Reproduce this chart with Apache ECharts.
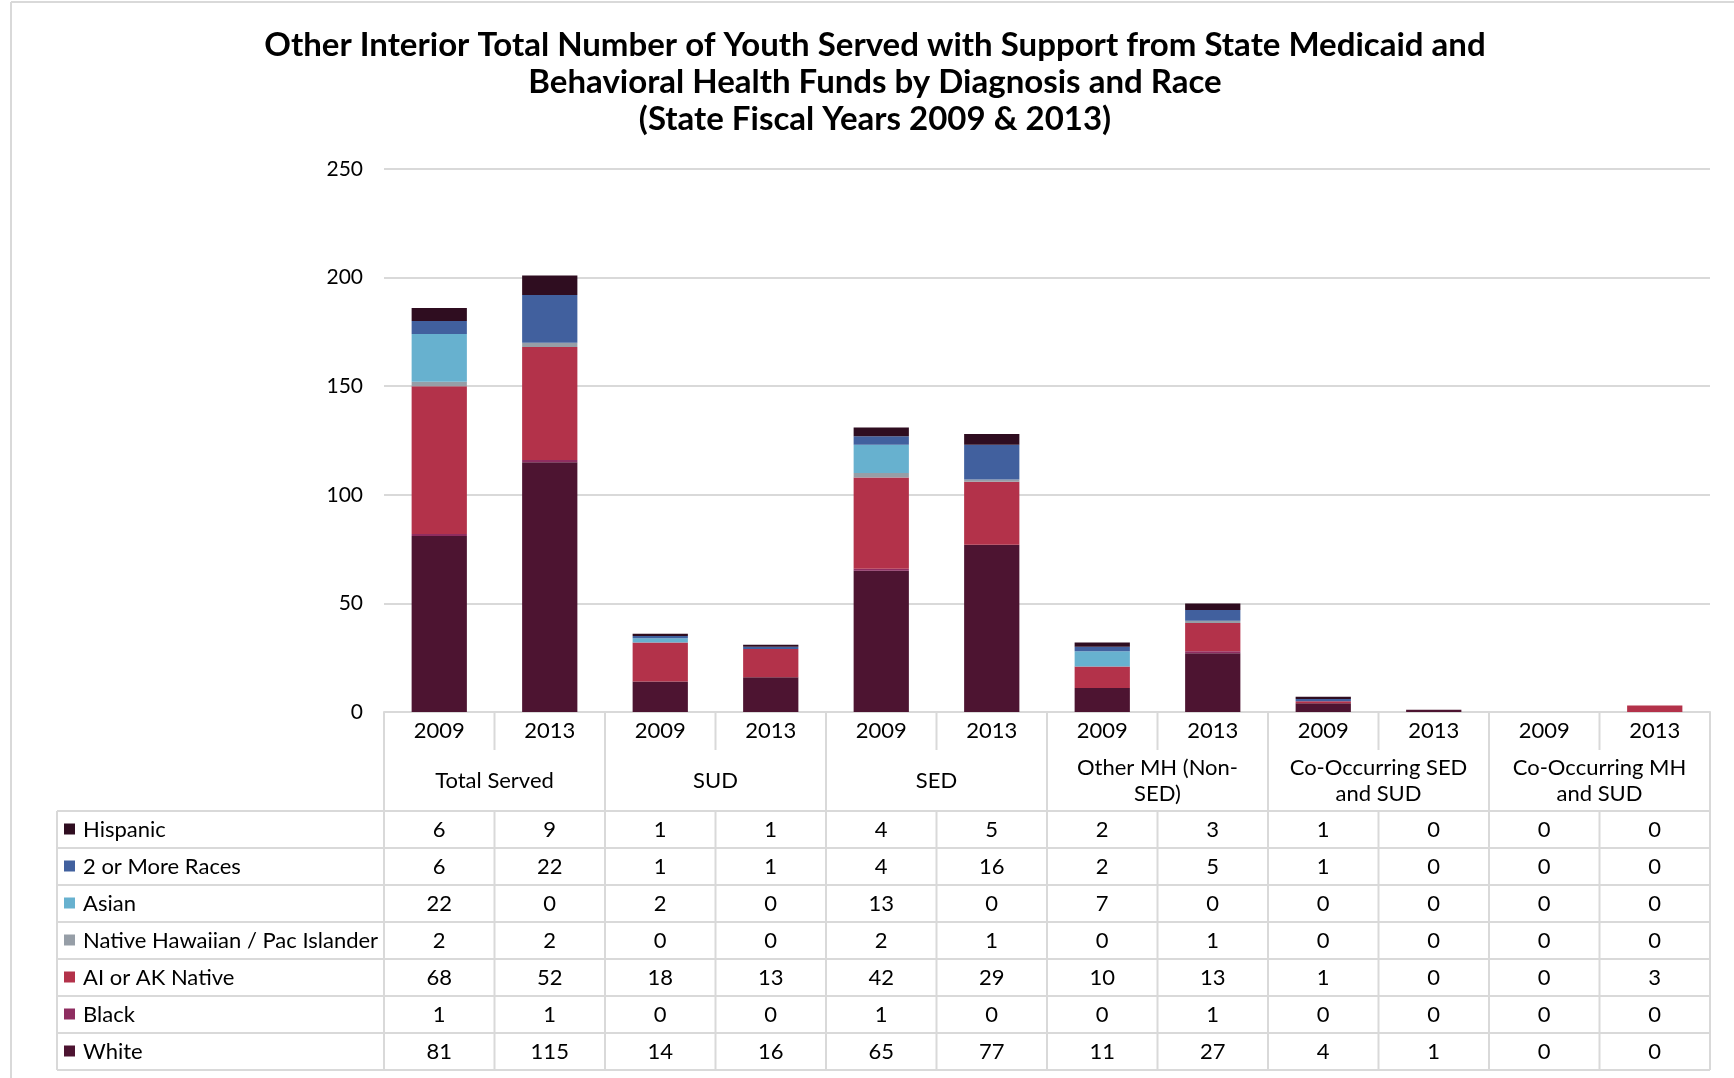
<!DOCTYPE html>
<html>
<head>
<meta charset="utf-8">
<script src="https://cdn.jsdelivr.net/npm/echarts@6/dist/echarts.min.js"></script>
<style>
html, body { margin: 0; padding: 0; background: #fff; }
#chart { width: 1734px; height: 1078px; }
</style>
</head>
<body>
<div id="chart"></div>
<script>
// data
var years = ['2009', '2013'];
var groups = ['Total Served', 'SUD', 'SED', 'Other MH (Non-\nSED)', 'Co-Occurring SED\nand SUD', 'Co-Occurring MH\nand SUD'];
var races = ['Hispanic', '2 or More Races', 'Asian', 'Native Hawaiian / Pac Islander', 'AI or AK Native', 'Black', 'White'];
var raceColors = ['#2F0D20', '#41609E', '#67B1CF', '#969EA7', '#B3324A', '#8E2D60', '#4D1431'];

var hispanic = [6, 9, 1, 1, 4, 5, 2, 3, 1, 0, 0, 0];
var twoOrMore = [6, 22, 1, 1, 4, 16, 2, 5, 1, 0, 0, 0];
var asian = [22, 0, 2, 0, 13, 0, 7, 0, 0, 0, 0, 0];
var nativeHawaiian = [2, 2, 0, 0, 2, 1, 0, 1, 0, 0, 0, 0];
var aiAkNative = [68, 52, 18, 13, 42, 29, 10, 13, 1, 0, 0, 3];
var black = [1, 1, 0, 0, 1, 0, 0, 1, 0, 0, 0, 0];
var white = [81, 115, 14, 16, 65, 77, 11, 27, 4, 1, 0, 0];

var yMax = 250;
var yStep = 50;

var rows = [hispanic, twoOrMore, asian, nativeHawaiian, aiAkNative, black, white];

var cats = [];
groups.forEach(function (g) {
  years.forEach(function (y) { cats.push(g + ' ' + y); });
});

var FONT = 'Lato, "Open Sans", sans-serif';
var gridColor = '#d9d9d9';

var chart = echarts.init(document.getElementById('chart'));

// stack from the bottom: White first, Hispanic on top
var series = [];
for (var r = rows.length - 1; r >= 0; r--) {
  series.push({
    name: races[r],
    type: 'bar',
    stack: 'race',
    barWidth: '50%',
    data: rows[r],
    itemStyle: { color: raceColors[r] }
  });
}

chart.setOption({
  animation: false,
  textStyle: { fontFamily: FONT },
  title: {
    text: 'Other Interior Total Number of Youth Served with Support from State Medicaid and\nBehavioral Health Funds by Diagnosis and Race\n(State Fiscal Years 2009 & 2013)',
    left: 870,
    top: 22,
    textAlign: 'center',
    textStyle: {
      fontFamily: FONT,
      fontSize: 33,
      fontWeight: 'bold',
      color: '#000',
      lineHeight: 37
    }
  },
  grid: { left: 384, right: 24, top: 169, bottom: 366 },
  xAxis: {
    type: 'category',
    data: cats,
    axisLabel: { show: false },
    axisTick: { show: false },
    axisLine: { lineStyle: { color: gridColor, width: 2 } }
  },
  yAxis: {
    type: 'value',
    min: 0,
    max: yMax,
    interval: yStep,
    axisLine: { show: false },
    axisTick: { show: false },
    axisLabel: { fontSize: 21, color: '#000', margin: 21, fontFamily: FONT },
    splitLine: { lineStyle: { color: gridColor, width: 2 } }
  },
  series: series
});

// data table under the plot, columns taken from the category axis
function drawTable() {
  var c0 = chart.convertToPixel({ gridIndex: 0 }, [0, 0]);
  var c1 = chart.convertToPixel({ gridIndex: 0 }, [1, 0]);
  var band = c1[0] - c0[0];
  var y0 = c0[1];
  var left = c0[0] - band / 2;
  var right = left + band * cats.length;
  var yearH = 38, groupH = 61, rowH = 37;
  var tLeft = 57;
  var rowsTop = y0 + yearH + groupH;
  var bottom = rowsTop + rowH * rows.length;
  var els = [];
  var line = function (x1, y1, x2, y2) {
    els.push({ type: 'line', shape: { x1: x1, y1: y1, x2: x2, y2: y2 }, style: { stroke: gridColor, lineWidth: 2 }, z: 10 });
  };
  var text = function (x, y, s, align, size) {
    els.push({ type: 'text', x: x, y: y, style: { text: s, fill: '#000', font: (size || 22) + 'px ' + FONT, align: align || 'center', verticalAlign: 'middle', lineHeight: 26 }, z: 11 });
  };

  // horizontal lines
  for (var k = 0; k <= rows.length; k++) line(tLeft, rowsTop + k * rowH, right, rowsTop + k * rowH);
  // vertical lines
  line(tLeft, rowsTop, tLeft, bottom);
  line(left, y0, left, bottom);
  for (var i = 1; i <= cats.length; i++) {
    var x = left + i * band;
    if (i % 2 === 0) {
      line(x, y0, x, bottom);
    } else {
      line(x, y0, x, y0 + yearH);
      line(x, rowsTop, x, bottom);
    }
  }

  // year and group labels
  for (var j = 0; j < cats.length; j++) {
    var cx = left + band * (j + 0.5);
    text(cx, y0 + yearH / 2, years[j % 2]);
    for (var r = 0; r < rows.length; r++) {
      text(cx, rowsTop + rowH * (r + 0.5), String(rows[r][j]));
    }
  }
  groups.forEach(function (g, gi) {
    text(left + band * (gi * 2 + 1), y0 + yearH + groupH / 2, g);
  });

  // race names with colour keys
  races.forEach(function (name, r) {
    var cy = rowsTop + rowH * (r + 0.5);
    els.push({ type: 'rect', shape: { x: 64, y: cy - 6, width: 11, height: 11 }, style: { fill: raceColors[r] }, z: 11 });
    text(83, cy, name, 'left');
  });

  // outer frame
  line(11, 2, 1734, 2);
  line(11, 2, 11, 1078);

  chart.setOption({ graphic: { elements: els } });
}
drawTable();
</script>
</body>
</html>
